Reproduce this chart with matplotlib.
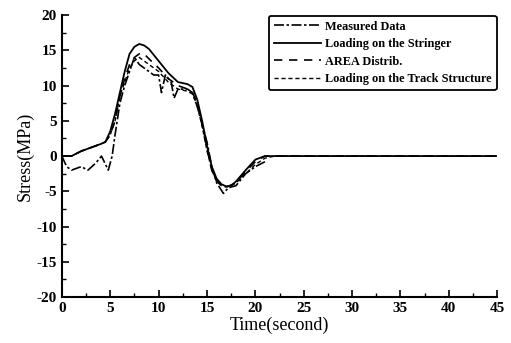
import matplotlib.pyplot as plt
from matplotlib.ticker import MultipleLocator

plt.rcParams['font.family'] = ['Liberation Serif', 'DejaVu Serif']
plt.rcParams['font.weight'] = 'bold'
plt.rcParams['axes.unicode_minus'] = False

# measured data (dash dot)
t_meas = [0, 0.5, 1, 2, 2.7, 3.5, 4.1, 4.8, 5.2, 5.5, 6, 6.5, 7, 7.5, 8, 8.5, 9, 9.5, 10,
          10.3, 10.7, 11.3, 11.6, 12, 13, 13.5, 14, 15, 15.5, 16, 16.7, 17.2, 18, 19, 20, 21]
s_meas = [0, -1.5, -2, -1.5, -2, -1, 0, -2, 0, 3, 7.5, 10, 12, 14, 13, 12.5, 12, 11.5, 11.5,
          9, 11.5, 10.5, 8.2, 9.5, 9.5, 9, 7, 2, -1.5, -3.8, -5.3, -4.5, -4.2, -2.5, -1.5, -0.8]

# loading on the stringer (solid)
t_str = [0, 1, 2, 3, 4, 4.5, 5, 5.5, 6, 6.5, 7, 7.5, 8, 8.5, 9, 10, 11, 12, 13, 13.5, 14,
         14.5, 15, 15.5, 16, 16.5, 17, 17.5, 18, 19, 20, 21, 45]
s_str = [0, 0, 0.7, 1.2, 1.7, 2, 3.5, 6, 9, 12, 14.5, 15.5, 15.9, 15.7, 15.2, 13.5, 11.8,
         10.5, 10.2, 9.8, 8, 5, 1.5, -1.5, -3.2, -4, -4.3, -4.2, -3.6, -2, -0.5, 0, 0]

# AREA distrib (long dash)
t_area = [0, 1, 2, 3, 4, 4.5, 5, 5.5, 6, 6.5, 7, 7.5, 8, 8.5, 9, 10, 11, 12, 13, 13.5, 14,
          14.5, 15, 15.5, 16, 16.5, 17, 18, 19, 20, 21, 45]
s_area = [0, 0, 0.7, 1.2, 1.7, 2, 3, 5, 8.5, 11, 13, 14, 14.5, 14.5, 13.8, 12.5, 11, 10,
          9.5, 9, 7.5, 4.5, 1, -2, -3.5, -4.2, -4.4, -3.8, -2.2, -0.8, 0, 0]

# loading on the track structure (short dash)
t_trk = [0, 1, 2, 3, 4, 4.5, 5, 5.5, 6, 6.5, 7, 7.5, 8, 9, 10, 11, 12, 13, 13.5, 14, 14.5,
         15, 15.5, 16, 16.5, 17, 17.5, 18, 19, 20, 21, 22, 45]
s_trk = [0, 0, 0.7, 1.2, 1.7, 2, 3, 5, 8.5, 10.5, 12.5, 13.5, 14, 13, 12, 10.5, 9.5, 9.2,
         8.8, 7.2, 4.2, 0.8, -2, -3.6, -4.2, -4.4, -4.2, -3.8, -2.5, -1.2, -0.3, 0, 0]

fig = plt.figure(figsize=(5.11, 3.43), dpi=100)
ax = fig.add_axes([0.121, 0.134, 0.852, 0.822])

ax.plot(t_meas, s_meas, color='black', lw=1.2, linestyle=(0, (6, 1.5, 1.5, 1.5)), label='Measured Data')
ax.plot(t_str, s_str, color='black', lw=1.3, linestyle='-', label='Loading on the Stringer')
ax.plot(t_area, s_area, color='black', lw=1.2, linestyle=(0, (5, 4)), label='AREA Distrib.')
ax.plot(t_trk, s_trk, color='black', lw=1.0, linestyle=(0, (3, 2)), label='Loading on the Track Structure')

ax.set_xlim(0, 45)
ax.set_ylim(-20, 20)
ax.xaxis.set_major_locator(MultipleLocator(5))
ax.xaxis.set_minor_locator(MultipleLocator(2.5))
ax.yaxis.set_major_locator(MultipleLocator(5))
ax.yaxis.set_minor_locator(MultipleLocator(2.5))
ax.tick_params(which='major', direction='in', length=5, width=1.2, labelsize=11)
ax.tick_params(which='minor', direction='in', length=3, width=1)
ax.spines['top'].set_visible(False)
ax.spines['right'].set_visible(False)
ax.spines['left'].set_linewidth(1.5)
ax.spines['bottom'].set_linewidth(1.5)

ax.set_xlabel('Time(second)', fontsize=13, labelpad=1)
ax.set_ylabel('Stress(MPa)', fontsize=13, labelpad=2)

leg = ax.legend(loc='upper right', fontsize=8.8, frameon=True, fancybox=True,
                handlelength=3.9, handletextpad=0.3, labelspacing=0.45,
                borderaxespad=0.05, borderpad=0.4)
leg.get_frame().set_edgecolor('black')
leg.get_frame().set_linewidth(1.3)
leg.get_frame().set_alpha(1)

fig.savefig('out.png', dpi=100)
